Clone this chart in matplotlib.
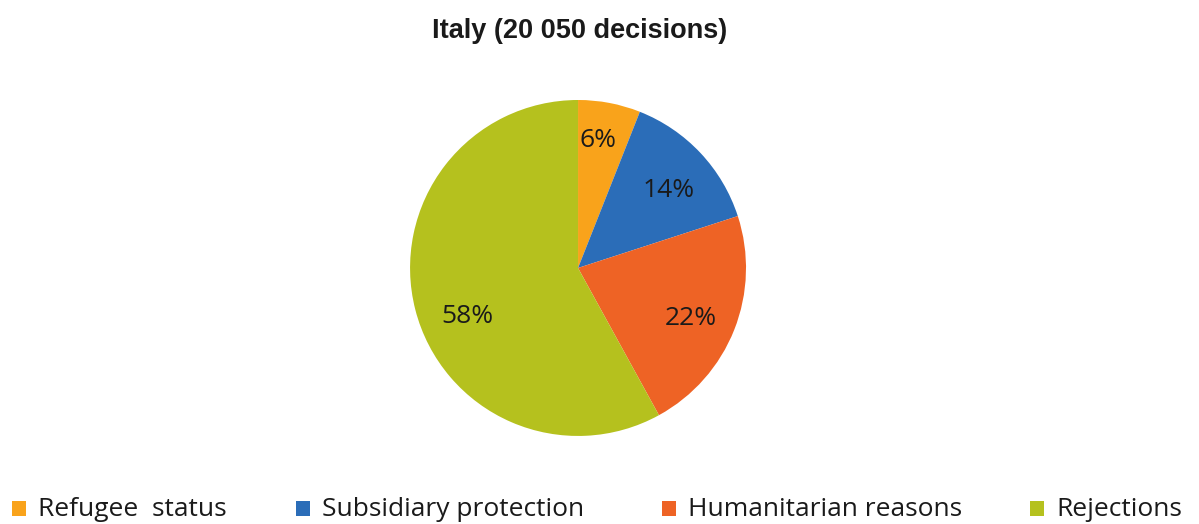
import matplotlib.pyplot as plt
from matplotlib.patches import Rectangle

## DATA
categories = ['Refugee  status', 'Subsidiary protection', 'Humanitarian reasons', 'Rejections']
shares = [6, 14, 22, 58]
colors = ['#F9A31B', '#2B6DB8', '#EE6325', '#B5C11E']
title = 'Italy (20 050 decisions)'

# label placement inside the pie (data units, radius = 1), like excel's "best fit"
label_pos = [(0.12, 0.76), (0.54, 0.46), (0.67, -0.30), (-0.66, -0.29)]
# legend item x positions in pixels (marker left, text left)
legend_x = [(12, 38), (296, 322), (662, 688), (1030, 1056)]

W, H = 1199, 524
fig = plt.figure(figsize=(W / 100, H / 100), dpi=100)
ax = fig.add_axes([0.342, 0.168, 0.2802, 0.6412])

wedges, texts = ax.pie(shares, colors=colors, startangle=90, counterclock=False,
                       labels=[f'{s}%' for s in shares],
                       textprops=dict(fontsize=19, family='Open Sans', color='#1a1a1a',
                                      ha='center', va='center'))
for t, p in zip(texts, label_pos):
    t.set_position(p)
    t.set_ha('center')
    t.set_va('center')
ax.set_xlim(-1, 1)
ax.set_ylim(-1, 1)
ax.set_aspect('equal')

fig.text(580 / W, 1 - 38 / H, title, ha='center', va='baseline', fontsize=19.5,
         fontweight='bold', family=['Liberation Sans', 'DejaVu Sans'], color='#1a1a1a')

# legend drawn by hand along the bottom edge
for (mx, tx), c, name in zip(legend_x, colors, categories):
    fig.add_artist(Rectangle((mx / W, 1 - 516 / H), 14 / W, 15 / H, transform=fig.transFigure,
                             facecolor=c, edgecolor='none'))
    fig.text(tx / W, 1 - 516.5 / H, name, ha='left', va='baseline', fontsize=19,
             family='Open Sans', color='#1a1a1a')

plt.savefig('out.png', dpi=100)
